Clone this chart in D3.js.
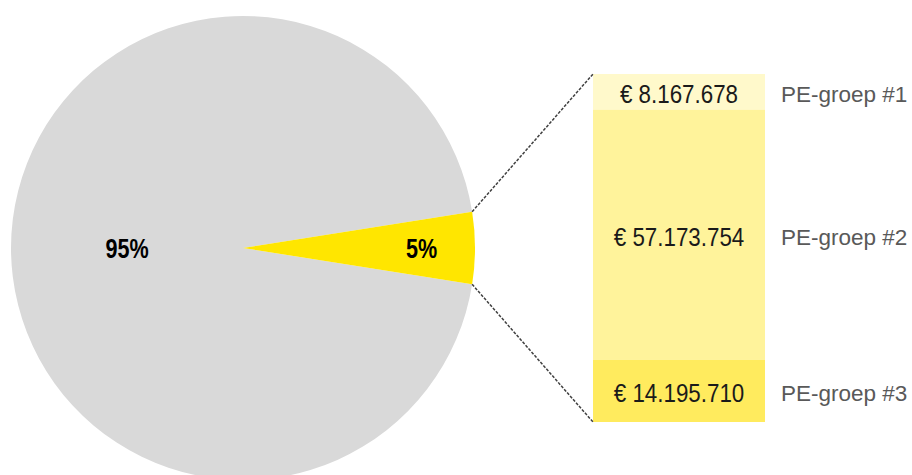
<!DOCTYPE html>
<html>
<head>
<meta charset="utf-8">
<script src="https://cdn.jsdelivr.net/npm/d3@7/dist/d3.min.js"></script>
<style>
  html, body { margin: 0; padding: 0; background: #fff; }
  svg { display: block; }
  text { font-family: "Liberation Sans", Arial, sans-serif; }
</style>
</head>
<body>
<svg id="chart" width="912" height="475"></svg>
<script>
// Share of the total (pie)
const pieLabels = ["Overig", "PE"];
const pieShares = [95, 5];
const pieColors = ["#d9d9d9", "#ffe600"];

// Breakdown of the PE share (stacked bar)
const groups = ["PE-groep #1", "PE-groep #2", "PE-groep #3"];
const amounts = [8167678, 57173754, 14195710];
const groupColors = ["#fff9cb", "#fff39b", "#ffeb5e"];

const svg = d3.select("#chart");

// ---- pie ----
const cx = 243, cy = 248, r = 232;
const half = Math.PI * pieShares[1] / 100;           // half-angle of the small slice
const start = Math.PI / 2 + half;                      // small slice centred on 3 o'clock
const pie = d3.pie().sort(null).startAngle(start).endAngle(start + 2 * Math.PI);
const arcs = pie(pieShares);
const arc = d3.arc().innerRadius(0).outerRadius(r);

const gPie = svg.append("g").attr("transform", `translate(${cx},${cy})`);
gPie.selectAll("path").data(arcs).join("path")
  .attr("d", arc)
  .attr("fill", (d, i) => pieColors[i]);

const labelRadius = [0.5 * r, 0.77 * r];
gPie.selectAll("g.plabel").data(arcs).join("g")
  .attr("class", "plabel")
  .attr("transform", (d, i) => {
    const a = (d.startAngle + d.endAngle) / 2;
    const x = Math.sin(a) * labelRadius[i], y = -Math.cos(a) * labelRadius[i];
    return `translate(${x},${y + 10}) scale(0.8,1)`;
  })
  .append("text")
  .attr("text-anchor", "middle")
  .attr("font-size", 27)
  .attr("font-weight", "bold")
  .attr("fill", "#000")
  .text(d => d.data + "%");

// ---- stacked bar ----
const barX0 = 593, barX1 = 765;
const total = d3.sum(amounts);
const y = d3.scaleLinear().domain([0, total]).range([74, 422]);
let acc = 0;
const segs = amounts.map((v, i) => {
  const s = { name: groups[i], value: v, y0: acc, y1: acc + v, color: groupColors[i] };
  acc += v;
  return s;
});

const fmt = v => "€ " + d3.format(",")(v).replace(/,/g, ".");

const gBar = svg.append("g");
gBar.selectAll("rect").data(segs).join("rect")
  .attr("x", barX0)
  .attr("width", barX1 - barX0)
  .attr("y", d => y(d.y0))
  .attr("height", d => y(d.y1) - y(d.y0))
  .attr("fill", d => d.color);

gBar.selectAll("g.vlabel").data(segs).join("g")
  .attr("class", "vlabel")
  .attr("transform", d => `translate(${(barX0 + barX1) / 2},${(y(d.y0) + y(d.y1)) / 2 + 11}) scale(0.86,1)`)
  .append("text")
  .attr("text-anchor", "middle")
  .attr("font-size", 26)
  .attr("fill", "#1a1a1a")
  .text(d => fmt(d.value));

gBar.selectAll("g.glabel").data(segs).join("g")
  .attr("class", "glabel")
  .attr("transform", d => `translate(781,${(y(d.y0) + y(d.y1)) / 2 + 10})`)
  .append("text")
  .attr("text-anchor", "start")
  .attr("font-size", 22.5)
  .attr("fill", "#595959")
  .text(d => d.name);

// ---- connector lines from the small slice to the bar ----
const small = arcs[1];
const edgePts = [small.startAngle, small.endAngle].map(a => [cx + Math.sin(a) * r, cy - Math.cos(a) * r]);
const barPts = [[barX0, y(0)], [barX0, y(total)]];
svg.append("g").selectAll("line").data([0, 1]).join("line")
  .attr("x1", i => edgePts[i][0])
  .attr("y1", i => edgePts[i][1])
  .attr("x2", i => barPts[i][0])
  .attr("y2", i => barPts[i][1])
  .attr("stroke", "#404040")
  .attr("stroke-width", 1.5)
  .attr("stroke-dasharray", "3,1.5");
</script>
</body>
</html>
